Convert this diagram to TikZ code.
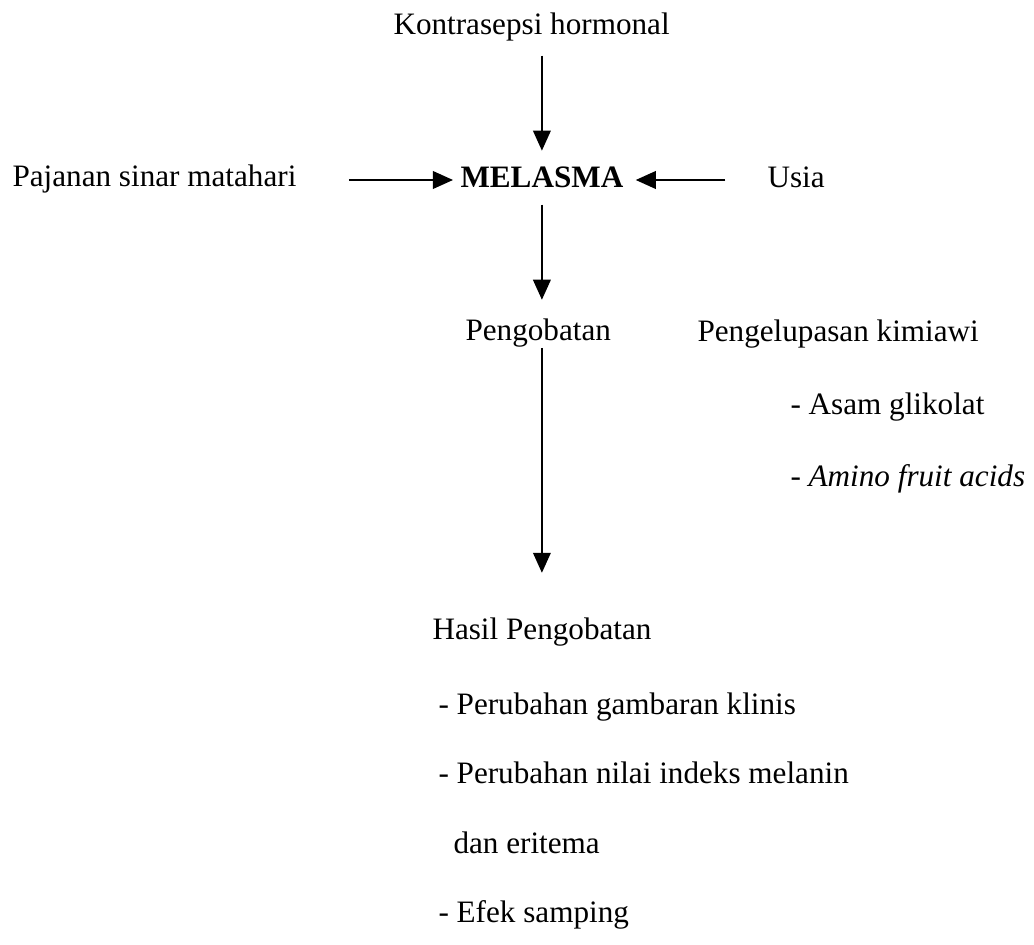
\documentclass[tikz,border=0pt]{standalone}
\usepackage{fontspec}
\setmainfont{Liberation Serif}
\usetikzlibrary{arrows.meta}

\begin{document}
\begin{tikzpicture}[x=0.385pt, y=-0.385pt,
        txt/.style={anchor=base west, inner sep=0pt, text height=8pt, text depth=2.6pt, font=\fontsize{12}{14}\selectfont},
        arr/.style={-{Triangle[length=7.7pt,width=6.8pt]}, line width=0.6pt}]
    \useasboundingbox ( 0, 0 ) rectangle ( 1034, 944 );

    % faktor penyebab
    \node [txt] (kontra) at ( 393, 34 ) {Kontrasepsi hormonal};
    \node [txt] (pajanan) at ( 12, 186 ) {Pajanan sinar matahari};
    \node [txt, font=\fontsize{12}{14}\selectfont\bfseries] (melasma) at ( 460, 187 ) {MELASMA};
    \node [txt] (usia) at ( 767, 187 ) {Usia};

    % pengobatan
    \node [txt] (peng) at ( 465, 340 ) {Pengobatan};
    \node [txt] (kupas) at ( 697, 341 ) {Pengelupasan kimiawi};
    \node [txt] (asam) at ( 790, 414 ) {- Asam glikolat};
    \node [txt] (amino) at ( 790, 486 ) {- \textit{Amino fruit acids}};

    % hasil
    \node [txt] (hasil) at ( 432, 639 ) {Hasil Pengobatan};
    \node [txt] (klinis) at ( 438, 714 ) {- Perubahan gambaran klinis};
    \node [txt] (indeks) at ( 438, 783 ) {- Perubahan nilai indeks melanin};
    \node [txt] (eritema) at ( 453, 853 ) {dan eritema};
    \node [txt] (efek) at ( 438, 922 ) {- Efek samping};

    % panah
    \draw [arr, shorten <=5.5pt, shorten >=5.8pt] (kontra.south -| melasma.north) -- (melasma.north);
    \draw [arr, shorten <=20pt, shorten >=2.7pt] (pajanan.east |- melasma.west) -- (melasma.west);
    \draw [arr, shorten <=16pt, shorten >=4.6pt] (usia.west |- melasma.east) -- (melasma.east);
    \draw [arr, shorten <=4pt, shorten >=7.3pt] (melasma.south) -- (peng.north -| melasma.south);
    \draw [arr, shorten <=0.2pt, shorten >=17.3pt] (peng.south -| melasma.south) -- (hasil.north -| melasma.south);
\end{tikzpicture}
\end{document}
